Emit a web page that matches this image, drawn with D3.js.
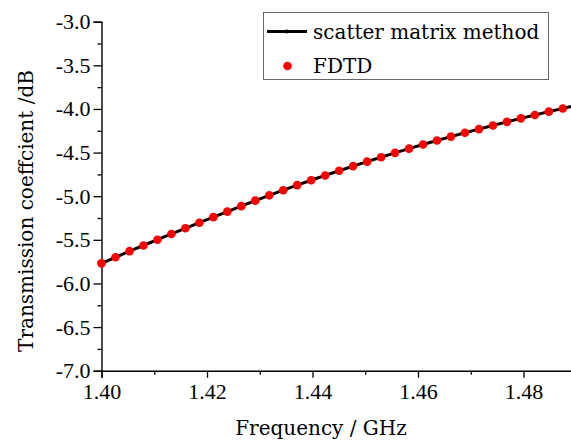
<!DOCTYPE html>
<html lang="en">
<head>
  <meta charset="UTF-8">
  <script src="https://d3js.org/d3.v7.min.js"></script>
  <style>
    body { margin: 0; background: #fff; }
    svg { display: block; }
  </style>
</head>
<body>
  <script>
    // frequency points (GHz)
    const freq = [1.4000, 1.40265, 1.4053, 1.40795, 1.4106, 1.41325, 1.4159, 1.41855, 1.4212,
      1.42385, 1.4265, 1.42915, 1.4318, 1.43445, 1.4371, 1.43975, 1.4424, 1.44505, 1.4477,
      1.45035, 1.4530, 1.45565, 1.4583, 1.46095, 1.4636, 1.46625, 1.4689, 1.47155, 1.4742,
      1.47685, 1.4795, 1.48215, 1.4848, 1.48745, 1.4901];
    // scatter matrix method (dB)
    const smm = [-5.770, -5.700, -5.630, -5.565, -5.499, -5.433, -5.368, -5.304, -5.240,
      -5.177, -5.114, -5.051, -4.990, -4.931, -4.873, -4.817, -4.762, -4.708, -4.655,
      -4.604, -4.553, -4.503, -4.455, -4.408, -4.362, -4.317, -4.273, -4.231, -4.189,
      -4.148, -4.108, -4.069, -4.031, -3.994, -3.958];
    // FDTD (dB)
    const fdtd = [-5.770, -5.700, -5.630, -5.565, -5.499, -5.433, -5.368, -5.304, -5.240,
      -5.177, -5.114, -5.051, -4.990, -4.931, -4.873, -4.817, -4.762, -4.708, -4.655,
      -4.604, -4.553, -4.503, -4.455, -4.408, -4.362, -4.317, -4.273, -4.231, -4.189,
      -4.148, -4.108, -4.069, -4.031, -3.994, -3.958];
    const xTicks = [1.40, 1.42, 1.44, 1.46, 1.48];
    const xMinor = [1.41, 1.43, 1.45, 1.47];
    const yTicks = [-7.0, -6.5, -6.0, -5.5, -5.0, -4.5, -4.0, -3.5, -3.0];
    const yMinor = [-6.75, -6.25, -5.75, -5.25, -4.75, -4.25, -3.75, -3.25];
    const seriesNames = ["scatter matrix method", "FDTD"];

    const width = 571;
    const height = 444;
    const numFont = "Liberation Serif, DejaVu Serif, serif";
    const textFont = "DejaVu Serif, serif";

    const svg = d3.select("body")
      .append("svg")
      .attr("width", width)
      .attr("height", height);

    const x = d3.scaleLinear()
      .domain([1.40, 1.50])
      .range([101.5, 629]);

    const y = d3.scaleLinear()
      .domain([-7, -3])
      .range([370.7, 21.7]);

    // x axis
    const gx = svg.append("g")
      .attr("transform", `translate(0,${y(-7)})`)
      .call(d3.axisBottom(x).tickValues(xTicks).tickSize(7).tickPadding(4)
        .tickFormat(d3.format(".2f")));
    svg.append("g")
      .attr("transform", `translate(0,${y(-7)})`)
      .call(d3.axisBottom(x).tickValues(xMinor).tickSize(4).tickFormat(""))
      .select(".domain").remove();

    // y axis
    const gy = svg.append("g")
      .attr("transform", `translate(${x(1.40)},0)`)
      .call(d3.axisLeft(y).tickValues(yTicks).tickSize(8).tickPadding(3)
        .tickFormat(d => d3.format(".1f")(d).replace("\u2212", "-")));
    svg.append("g")
      .attr("transform", `translate(${x(1.40)},0)`)
      .call(d3.axisLeft(y).tickValues(yMinor).tickSize(4).tickFormat(""))
      .select(".domain").remove();

    svg.selectAll("g").attr("font-family", numFont).attr("font-size", 22);
    svg.selectAll(".domain").attr("stroke", "#000").attr("stroke-width", 1.4);
    svg.selectAll(".tick line").attr("stroke", "#000").attr("stroke-width", 1.3);
    svg.selectAll(".tick text").attr("fill", "#000");
    gx.selectAll(".tick text").attr("dy", "0.78em");

    // axis titles
    svg.append("text")
      .attr("x", 321)
      .attr("y", 435)
      .attr("text-anchor", "middle")
      .attr("font-family", textFont)
      .attr("font-size", 20)
      .text("Frequency / GHz");

    svg.append("text")
      .attr("transform", "translate(33,211) rotate(-90)")
      .attr("text-anchor", "middle")
      .attr("font-family", textFont)
      .attr("font-size", 20)
      .text("Transmission coeffcient /dB");

    // line
    const line = d3.line()
      .x((d, i) => x(freq[i]))
      .y(d => y(d));

    const plot = svg.append("g");

    plot.append("path")
      .datum(smm)
      .attr("d", line)
      .attr("fill", "none")
      .attr("stroke", "#000")
      .attr("stroke-width", 3);

    plot.selectAll(".smm")
      .data(smm)
      .enter()
      .append("circle")
      .attr("class", "smm")
      .attr("cx", (d, i) => x(freq[i]))
      .attr("cy", d => y(d))
      .attr("r", 2)
      .attr("fill", "#000");

    plot.selectAll(".fdtd")
      .data(fdtd)
      .enter()
      .append("circle")
      .attr("class", "fdtd")
      .attr("cx", (d, i) => x(freq[i]))
      .attr("cy", d => y(d))
      .attr("r", 4.3)
      .attr("fill", "#ff0000");

    // legend
    const legend = svg.append("g");
    legend.append("rect")
      .attr("x", 263.5)
      .attr("y", 12.5)
      .attr("width", 285)
      .attr("height", 67)
      .attr("fill", "#fff")
      .attr("stroke", "#666")
      .attr("stroke-width", 1);

    legend.append("line")
      .attr("x1", 267).attr("x2", 307)
      .attr("y1", 31.5).attr("y2", 31.5)
      .attr("stroke", "#000")
      .attr("stroke-width", 3);
    legend.append("circle")
      .attr("cx", 287).attr("cy", 31.5).attr("r", 2)
      .attr("fill", "#000");
    legend.append("circle")
      .attr("cx", 287.5).attr("cy", 66).attr("r", 4.3)
      .attr("fill", "#ff0000");

    legend.selectAll(".ltext")
      .data(seriesNames)
      .enter()
      .append("text")
      .attr("class", "ltext")
      .attr("x", 313)
      .attr("y", (d, i) => 39 + i * 34)
      .attr("font-family", textFont)
      .attr("font-size", 20)
      .text(d => d);
  </script>
</body>
</html>
